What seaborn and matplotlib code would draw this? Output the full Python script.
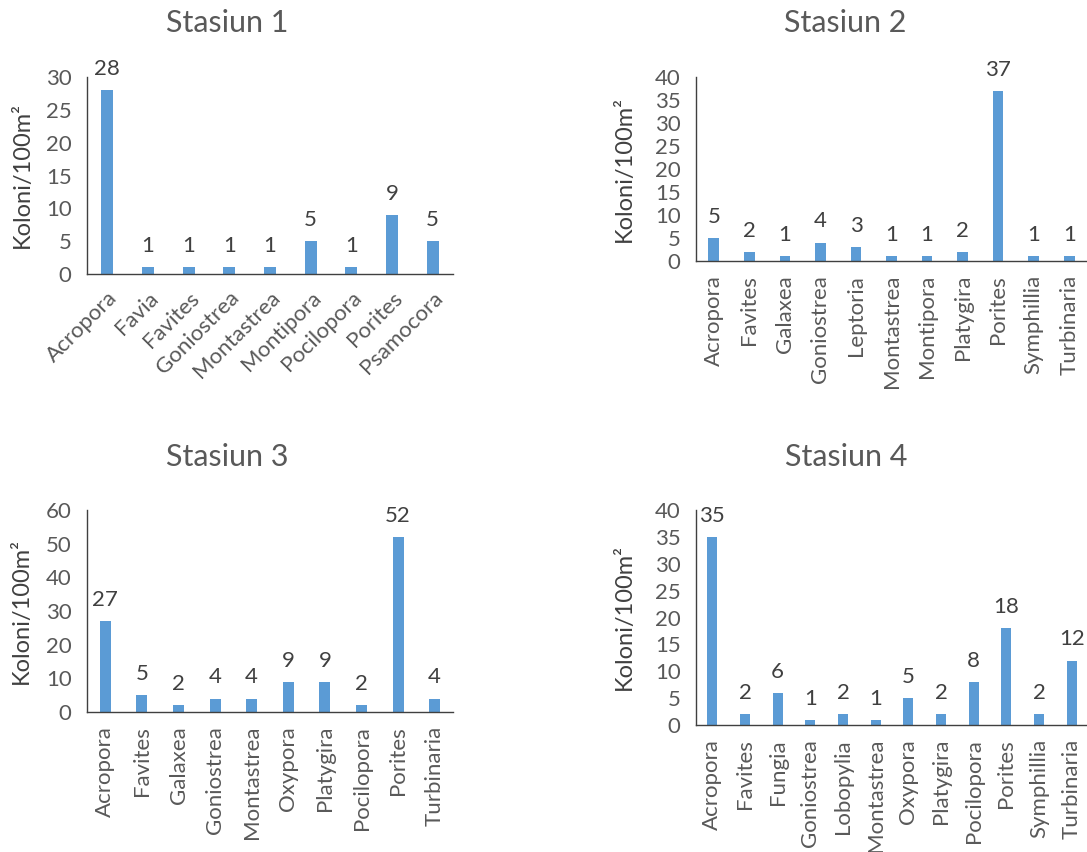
import numpy as np
import pandas as pd
import seaborn as sns
import matplotlib.pyplot as plt
from matplotlib.ticker import FixedLocator, NullFormatter

# Data per stasiun
genus_1 = ["Acropora", "Favia", "Favites", "Goniostrea", "Montastrea", "Montipora",
           "Pocilopora", "Porites", "Psamocora"]
koloni_1 = [28, 1, 1, 1, 1, 5, 1, 9, 5]

genus_2 = ["Acropora", "Favites", "Galaxea", "Goniostrea", "Leptoria", "Montastrea",
           "Montipora", "Platygira", "Porites", "Symphillia", "Turbinaria"]
koloni_2 = [5, 2, 1, 4, 3, 1, 1, 2, 37, 1, 1]

genus_3 = ["Acropora", "Favites", "Galaxea", "Goniostrea", "Montastrea", "Oxypora",
           "Platygira", "Pocilopora", "Porites", "Turbinaria"]
koloni_3 = [27, 5, 2, 4, 4, 9, 9, 2, 52, 4]

genus_4 = ["Acropora", "Favites", "Fungia", "Goniostrea", "Lobopylia", "Montastrea",
           "Oxypora", "Platygira", "Pocilopora", "Porites", "Symphillia", "Turbinaria"]
koloni_4 = [35, 2, 6, 1, 2, 1, 5, 2, 8, 18, 2, 12]

judul = ["Stasiun 1", "Stasiun 2", "Stasiun 3", "Stasiun 4"]
y_max = [30, 40, 60, 40]
y_step = [5, 5, 10, 5]

sns.set_style("white")
plt.rcParams['font.family'] = ['Lato', 'DejaVu Sans']

W, H = 1087, 852
fig = plt.figure(figsize=(W / 100, H / 100), dpi=100)

# posisi panel dalam piksel: kiri, atas-sumbu, kanan, bawah-sumbu
posisi = [(87, 77, 453, 274), (696, 77, 1087, 261),
          (87, 510, 453, 712), (696, 510, 1088, 725)]
judul_xy = [(227, 23), (845, 23), (227, 457), (846, 457)]
label_x = [-0.148, -0.156, -0.15, -0.156]

abu = '#595959'
gelap = '#404040'
biru = '#5B9BD5'

data = [(genus_1, koloni_1), (genus_2, koloni_2), (genus_3, koloni_3), (genus_4, koloni_4)]

for i, (genus, koloni) in enumerate(data):
    l, t, r, b = posisi[i]
    ax = fig.add_axes([l / W, 1 - b / H, (r - l) / W, (b - t) / H])
    df = pd.DataFrame({'Genus': genus, 'Koloni': koloni})
    sns.barplot(data=df, x='Genus', y='Koloni', ax=ax, color=biru, saturation=1,
                width=0.3, linewidth=0)
    n = len(genus)
    ax.set_xlim(-0.5, n - 0.5)
    ax.set_ylim(0, y_max[i])
    ax.set_yticks(np.arange(0, y_max[i] + 1, y_step[i]))
    ax.set_xlabel('')
    ax.set_ylabel('Koloni/100m²', fontsize=17, color=gelap)
    ax.yaxis.set_label_coords(label_x[i], 0.5)

    # tick x di batas kategori, label di tengah
    ax.xaxis.set_major_locator(FixedLocator(np.arange(n + 1) - 0.5))
    ax.xaxis.set_major_formatter(NullFormatter())
    ax.xaxis.set_minor_locator(FixedLocator(np.arange(n)))
    ax.tick_params(axis='x', which='major', length=7, width=1, color=gelap, direction='out')
    ax.tick_params(axis='x', which='minor', length=0, pad=10)
    if i == 0:
        ax.set_xticklabels(genus, minor=True, rotation=45, ha='right', va='top',
                           rotation_mode='anchor', fontsize=16, color=abu)
    else:
        ax.set_xticklabels(genus, minor=True, rotation=90, ha='center', va='top',
                           fontsize=16, color=abu)
    ax.tick_params(axis='y', length=7, width=1, color=gelap, labelsize=16,
                   labelcolor=abu, direction='out', pad=4)

    for s in ['top', 'right']:
        ax.spines[s].set_visible(False)
    for s in ['left', 'bottom']:
        ax.spines[s].set_color(gelap)
        ax.spines[s].set_linewidth(1)

    for c in ax.containers:
        ax.bar_label(c, labels=[f'{v:g}' for v in koloni], padding=8,
                     fontsize=16, color=gelap, clip_on=False)

    fig.text(judul_xy[i][0] / W, 1 - judul_xy[i][1] / H, judul[i], fontsize=22,
             color=abu, ha='center', va='center')

fig.savefig('out.png', dpi=100)
